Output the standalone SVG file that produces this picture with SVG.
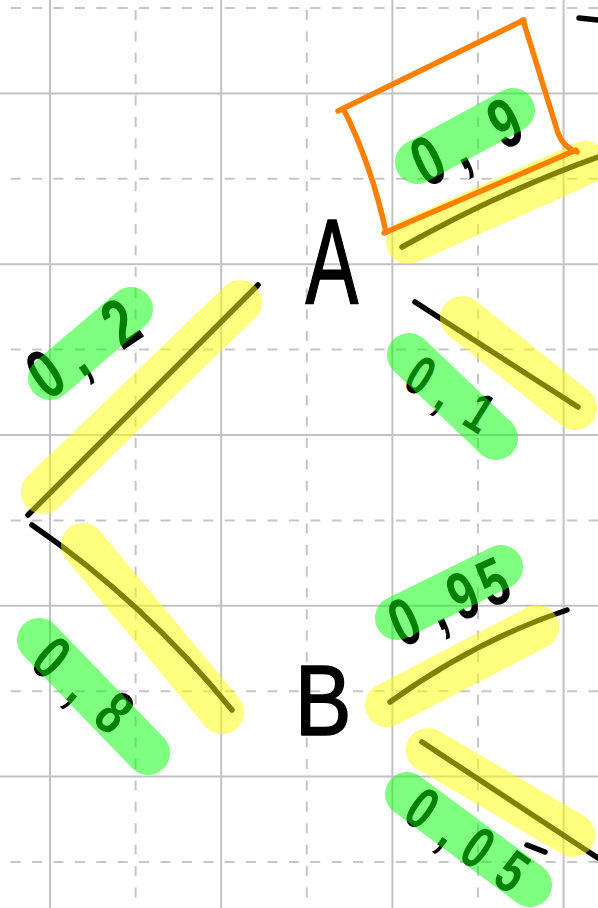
<svg xmlns="http://www.w3.org/2000/svg" width="598" height="908" viewBox="0 0 598 908">
<style>
.gs{stroke:#c2c2c2;stroke-width:2;fill:none}
.gd{stroke:#c6c6c6;stroke-width:2;fill:none;stroke-dasharray:10 11.4}
.ink{stroke:#000;stroke-width:5.5;fill:none;stroke-linecap:round;stroke-linejoin:round}
.yl{stroke:#ffff00;stroke-opacity:0.5;stroke-width:44;stroke-linecap:round;fill:none}
.gr{stroke:#00ff00;stroke-opacity:0.5;stroke-width:44;stroke-linecap:round;fill:none}
.or{stroke:#ff8000;stroke-width:5.5;fill:none;stroke-linecap:round;stroke-linejoin:round}
.num{font-family:"Liberation Sans",Arial,sans-serif;font-weight:bold;fill:#000;text-anchor:middle}
.big{font-family:"Liberation Sans",Arial,sans-serif;fill:#000;stroke:#000;stroke-width:1.6;stroke-linejoin:round;text-anchor:middle}
</style>
<rect width="598" height="908" fill="#fff"/>
<g id="grid">
<path class="gs" d="M50,0V908M221.2,0V908M392.4,0V908M563.6,0V908"/>
<path class="gs" d="M0,93.4H598M0,264.2H598M0,435H598M0,605.8H598M0,776.6H598"/>
<path class="gd" d="M135.6,10V908M306.8,10V908M478,10V908"/>
<path class="gd" d="M10.7,8H598M10.7,178.8H598M10.7,349.6H598M10.7,520.4H598M10.7,691.2H598M10.7,862H598"/>
</g>
<g id="connectors">
<path class="ink" d="M402,247 Q500,192 598,157"/>
<path class="ink" d="M258,285 L28,515"/>
<path class="ink" d="M32,525 Q144,602 232,710"/>
<path class="ink" d="M415,302 L578,407"/>
<path class="ink" d="M390,702 Q477,640 567,610"/>
<path class="ink" d="M422,742 L598,858"/>
<path class="ink" d="M579,18 L598,20"/>
<path class="ink" d="M527,845 L545,852"/>
</g>
<g id="node-A"><text class="big" font-size="120" transform="translate(332,303) scale(0.66,1)">A</text></g>
<g id="node-B"><text class="big" font-size="100" transform="translate(323,735) scale(0.85,1)">B</text></g>
<g id="label-09"><text class="num" font-size="70" transform="translate(466,141) rotate(-26) scale(0.72,1)" x="-59.7 -13.9 59.7" y="25">0,9</text></g>
<g id="label-02"><text class="num" font-size="70" transform="translate(82.5,347.5) rotate(-34) scale(0.72,1)" x="-63.2 -15 63.2" y="25">0,2</text></g>
<g id="label-01"><text class="num" font-size="56" transform="translate(450.5,393.5) rotate(32) scale(0.72,1)" x="-48.6 -5.4 48.6" y="20">0,1</text></g>
<g id="label-08"><text class="num" font-size="63" transform="translate(83.5,684.5) rotate(41) scale(0.72,1)" x="-58 -0.3 58" y="22.5">0,8</text></g>
<g id="label-095"><text class="num" font-size="67" transform="translate(448.5,601) rotate(-24) scale(0.72,1)" x="-67.8 -20.3 21.7 67.8" y="24">0,95</text></g>
<g id="label-005"><text class="num" font-size="60" transform="translate(468,839) rotate(35) scale(0.72,1)" x="-76.4 -26.7 18.2 76.4" y="22">0,05</text></g>
<g id="highlights">
<path class="yl" d="M408,242 L585,163"/>
<path class="yl" d="M43,492 L240,302"/>
<path class="yl" d="M83,545 L222,712"/>
<path class="yl" d="M462,318 L575,408"/>
<path class="yl" d="M387,705 L537,627"/>
<path class="yl" d="M428,750 L573,835"/>
<path class="gr" d="M417,162 L513,110"/>
<path class="gr" d="M50,378 L131,309"/>
<path class="gr" d="M409,355 L496,438"/>
<path class="gr" d="M39,640 L148,753"/>
<path class="gr" d="M397,618 L501,567"/>
<path class="gr" d="M407,794 L530,885"/>
</g>
<g id="box">
<path class="or" d="M338,111 L524,20"/>
<path class="or" d="M523,20 L558,133 Q563,147 577,152"/>
<path class="or" d="M576,150 L384,233"/>
<path class="or" d="M386,232 Q371,164 344,110"/>
</g>
</svg>
